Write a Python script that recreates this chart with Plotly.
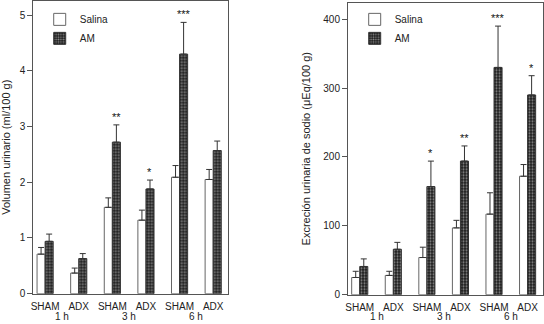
import plotly.graph_objects as go

groups = ["SHAM", "ADX", "SHAM", "ADX", "SHAM", "ADX"]
hours = ["1 h", "3 h", "6 h"]

vol_salina = [0.71, 0.37, 1.55, 1.32, 2.09, 2.05]
vol_salina_err = [0.12, 0.09, 0.17, 0.18, 0.21, 0.18]
vol_am = [0.94, 0.63, 2.72, 1.88, 4.30, 2.57]
vol_am_err = [0.13, 0.09, 0.31, 0.16, 0.57, 0.17]
vol_stars = ["", "", "**", "*", "***", ""]

na_salina = [25, 28, 54, 97, 117, 172]
na_salina_err = [9, 6, 15, 11, 31, 17]
na_am = [41, 66, 157, 194, 330, 290]
na_am_err = [11, 10, 37, 22, 60, 28]
na_stars = ["", "", "*", "**", "***", "*"]

xpos = list(range(len(groups)))
FONT = "Liberation Sans, Arial, sans-serif"
TXT = "#222222"
LINE = "#555555"

fig = go.Figure()


def add_panel(salina, salina_err, am, am_err, xa, ya, leg, show):
    fig.add_trace(go.Bar(
        x=xpos, y=salina, name="Salina", xaxis=xa, yaxis=ya, legend=leg,
        marker=dict(color="white", line=dict(color="#666666", width=1)),
        error_y=dict(type="data", array=salina_err, arrayminus=[0] * len(salina),
                     symmetric=False, color="#333333", thickness=1, width=3),
        showlegend=show, offsetgroup="s"))
    fig.add_trace(go.Bar(
        x=xpos, y=am, name="AM", xaxis=xa, yaxis=ya, legend=leg,
        marker=dict(color="#1a1a1a", line=dict(color="#333333", width=1),
                    pattern=dict(shape=".", fgcolor="white", bgcolor="#1a1a1a",
                                 size=3, solidity=0.4)),
        error_y=dict(type="data", array=am_err, arrayminus=[0] * len(am),
                     symmetric=False, color="#333333", thickness=1, width=3),
        showlegend=show, offsetgroup="a"))


add_panel(vol_salina, vol_salina_err, vol_am, vol_am_err, "x", "y", "legend", True)
add_panel(na_salina, na_salina_err, na_am, na_am_err, "x2", "y2", "legend2", True)

annotations = []
for stars, vals, errs, xr, yr in [(vol_stars, vol_am, vol_am_err, "x", "y"),
                                  (na_stars, na_am, na_am_err, "x2", "y2")]:
    for i, s in enumerate(stars):
        if s:
            annotations.append(dict(x=xpos[i] + 0.12, y=vals[i] + errs[i], xref=xr, yref=yr,
                                    text=s, showarrow=False, yanchor="bottom", yshift=0,
                                    font=dict(family=FONT, size=11, color="#111111")))
    for k, h in enumerate(hours):
        annotations.append(dict(x=2 * k + 0.5, y=1 - 316 / 324, xref=xr, yref="paper", text=h,
                                showarrow=False, yanchor="middle",
                                font=dict(family=FONT, size=10, color=TXT)))

xcommon = dict(range=[-0.35, 5.45], tickvals=xpos, ticktext=groups, showline=True,
               linecolor=LINE, mirror=True, ticks="", showgrid=False, zeroline=False,
               ticklabelstandoff=3, automargin=False,
               tickfont=dict(family=FONT, size=10, color=TXT), fixedrange=True)
ycommon = dict(showline=True, linecolor=LINE, mirror=True, ticks="outside", ticklen=5,
               tickcolor=LINE, showgrid=False, zeroline=False, automargin=False,
               tickfont=dict(family=FONT, size=10, color=TXT),
               title_font=dict(family=FONT, size=11, color=TXT), title_standoff=10)

fig.update_layout(
    width=544, height=324, margin=dict(l=0, r=0, t=0, b=0, autoexpand=False),
    paper_bgcolor="white", plot_bgcolor="white",
    barmode="group", bargap=0.52, bargroupgap=0,
    xaxis=dict(domain=[0.0613, 0.4197], anchor="y", **xcommon),
    yaxis=dict(domain=[0.0935, 0.998], anchor="x", range=[0, 5.26], dtick=1,
               title_text="Volumen urinario (ml/100 g)", **ycommon),
    xaxis2=dict(domain=[0.6397, 0.9976], anchor="y2", **xcommon),
    yaxis2=dict(domain=[0.0904, 0.9917], anchor="x2", range=[0, 424], dtick=100,
                title_text="Excreción urinaria de sodio (μEq/100 g)", **ycommon),
    legend=dict(x=0.073, y=0.985, xanchor="left", yanchor="top", bgcolor="rgba(0,0,0,0)",
                font=dict(family=FONT, size=10, color=TXT), tracegroupgap=0, itemwidth=30),
    legend2=dict(x=0.652, y=0.985, xanchor="left", yanchor="top", bgcolor="rgba(0,0,0,0)",
                 font=dict(family=FONT, size=10, color=TXT), tracegroupgap=0, itemwidth=30),
    annotations=annotations,
)

fig.write_html("out.html", config={"displayModeBar": False},
               post_script="document.body.style.margin='0px';")
